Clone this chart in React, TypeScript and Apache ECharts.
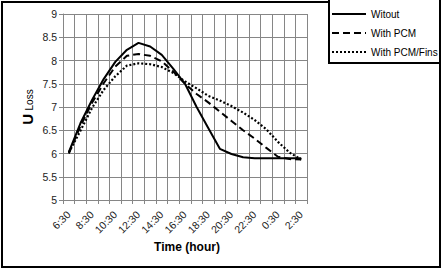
import React, { useEffect, useRef } from "react";
import * as echarts from "echarts";

const categories = [
  "6:30", "7:30", "8:30", "9:30", "10:30", "11:30", "12:30", "13:30", "14:30", "15:30",
  "16:30", "17:30", "18:30", "19:30", "20:30", "21:30", "22:30", "23:30", "0:30", "1:30", "2:30",
];
const seriesNames = ["Witout", "With PCM", "With PCM/Fins"];
const witout = [6.03, 6.65, 7.15, 7.6, 7.97, 8.23, 8.38, 8.3, 8.12, 7.82, 7.5, 7.0, 6.55, 6.1, 5.99, 5.92, 5.9, 5.9, 5.9, 5.9, 5.9];
const withPcm = [6.0, 6.59, 7.09, 7.51, 7.87, 8.1, 8.14, 8.1, 7.98, 7.76, 7.5, 7.28, 7.1, 6.9, 6.7, 6.5, 6.32, 6.12, 5.93, 5.88, 5.87];
const withPcmFins = [6.02, 6.49, 6.98, 7.37, 7.66, 7.89, 7.94, 7.92, 7.86, 7.73, 7.55, 7.4, 7.24, 7.14, 7.02, 6.88, 6.72, 6.52, 6.25, 6.02, 5.87];
const yMin = 5;
const yMax = 9;
const yStep = 0.5;
const xTitle = "Time (hour)";

const FONT = "'Liberation Sans', Arial, sans-serif";

export default function App() {
  const ref = useRef<HTMLDivElement>(null);
  useEffect(() => {
    const chart = echarts.init(ref.current!, null, { renderer: "svg" });
    const lineSeries = (name: string, data: number[], type: any, width: number) => ({
      name,
      type: "line",
      data,
      symbol: "none",
      lineStyle: { color: "#000", width, type, cap: "butt" },
      itemStyle: { color: "#000" },
      z: 3,
    });
    chart.setOption({
      animation: false,
      backgroundColor: "#fff",
      grid: { left: 63, top: 14, width: 244, height: 186, containLabel: false },
      xAxis: {
        type: "category",
        data: categories,
        boundaryGap: true,
        axisLine: { show: true, lineStyle: { color: "#868686", width: 1 } },
        axisTick: { show: true, interval: 0, length: 4, lineStyle: { color: "#868686" } },
        axisLabel: {
          interval: 1,
          rotate: 45,
          margin: 13,
          color: "#222",
          fontSize: 10.5,
          fontFamily: FONT,
        },
        splitLine: { show: true, interval: 0, lineStyle: { color: "#868686", width: 1 } },
      },
      yAxis: {
        type: "value",
        min: yMin,
        max: yMax,
        interval: yStep,
        axisLine: { show: true, lineStyle: { color: "#868686", width: 1 } },
        axisTick: { show: true, length: 4, lineStyle: { color: "#868686" } },
        axisLabel: { margin: 6, color: "#222", fontSize: 10.5, fontFamily: FONT },
        splitLine: { show: true, lineStyle: { color: "#868686", width: 1 } },
      },
      legend: {
        orient: "vertical",
        left: 331,
        top: 9,
        padding: 0,
        itemWidth: 34,
        itemHeight: 10,
        itemGap: 9,
        z: 20,
        data: seriesNames,
        itemStyle: { opacity: 0 },
        textStyle: { color: "#000", fontSize: 10, fontFamily: FONT, lineHeight: 10 },
      },
      graphic: [
        {
          type: "rect",
          z: 0,
          silent: true,
          shape: { x: 2, y: 2, width: 438, height: 265 },
          style: { fill: "none", stroke: "#000", lineWidth: 2 },
        },
        {
          type: "rect",
          z: 10,
          silent: true,
          shape: { x: 329, y: -5, width: 111, height: 68 },
          style: { fill: "#fff", stroke: "#000", lineWidth: 2 },
        },
        {
          type: "text",
          z: 10,
          x: 187,
          y: 247,
          style: {
            text: xTitle,
            fill: "#000",
            font: `bold 12px ${FONT}`,
            align: "center",
            verticalAlign: "middle",
          },
        },
        {
          type: "text",
          z: 10,
          x: 27,
          y: 107,
          rotation: Math.PI / 2,
          style: {
            text: "{u|U} {l|Loss}",
            fill: "#000",
            align: "center",
            verticalAlign: "middle",
            rich: {
              u: { fontSize: 15, fontWeight: "bold", fontFamily: FONT, fill: "#000", verticalAlign: "bottom" },
              l: { fontSize: 10, fontFamily: FONT, fill: "#000", verticalAlign: "bottom" },
            },
          },
        },
      ],
      series: [
        lineSeries(seriesNames[0], witout, "solid", 2),
        lineSeries(seriesNames[1], withPcm, [7, 4], 2),
        lineSeries(seriesNames[2], withPcmFins, [2, 2], 2.2),
      ],
    });
    return () => chart.dispose();
  }, []);
  return (
    <div
      ref={ref}
      style={{ position: "fixed", left: 0, top: 0, width: 443, height: 270, background: "#fff" }}
    />
  );
}
